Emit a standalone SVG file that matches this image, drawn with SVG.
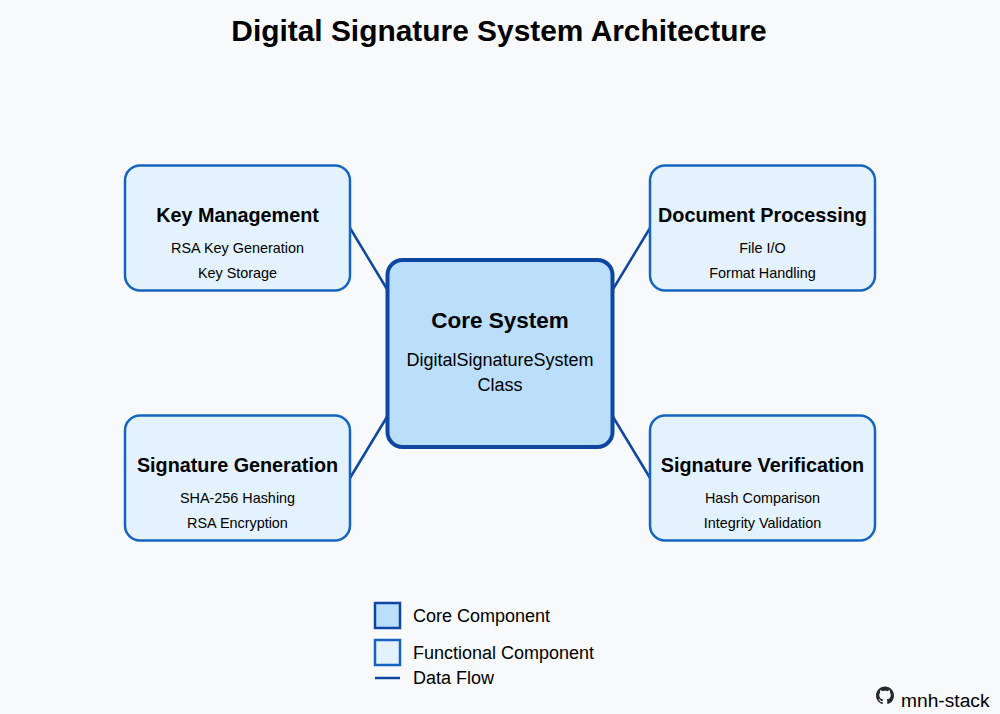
<svg xmlns="http://www.w3.org/2000/svg" width="1000" height="714" viewBox="0 0 1000 714">
<style>
text{font-family:"Liberation Sans",Arial,sans-serif;fill:#000;text-anchor:middle}
.fn{fill:#e3f2fd;stroke:#1565c0;stroke-width:2.5}
.core{fill:#bbdefb;stroke:#0d47a1;stroke-width:4}
.link{stroke:#0d47a1;stroke-width:2.5;fill:none}
.t{font-size:19.8px;font-weight:bold}
.s{font-size:14.4px}
.ct{font-size:22.5px;font-weight:bold}
.cs{font-size:18px}
.l{font-size:18px;text-anchor:start}
</style>
<rect width="1000" height="714" fill="#f8f9fa"/>
<text id="title" x="499" y="41" font-size="29.900" font-weight="bold">Digital Signature System Architecture</text>
<g id="connectors">
<line class="link" x1="350" y1="228" x2="387.500" y2="290"/>
<line class="link" x1="650" y1="228" x2="612.500" y2="290"/>
<line class="link" x1="350" y1="478" x2="387.500" y2="416"/>
<line class="link" x1="650" y1="478" x2="612.500" y2="416"/>
</g>
<g id="key-management">
<rect class="fn" x="125" y="165.500" width="225" height="125" rx="15"/>
<text class="t" x="237.500" y="222">Key Management</text>
<text class="s" x="237.500" y="253">RSA Key Generation</text>
<text class="s" x="237.500" y="278">Key Storage</text>
</g>
<g id="document-processing">
<rect class="fn" x="650" y="165.500" width="225" height="125" rx="15"/>
<text class="t" x="762.500" y="222">Document Processing</text>
<text class="s" x="762.500" y="253">File I/O</text>
<text class="s" x="762.500" y="278">Format Handling</text>
</g>
<g id="signature-generation">
<rect class="fn" x="125" y="415.500" width="225" height="125" rx="15"/>
<text class="t" x="237.500" y="472">Signature Generation</text>
<text class="s" x="237.500" y="503">SHA-256 Hashing</text>
<text class="s" x="237.500" y="528">RSA Encryption</text>
</g>
<g id="signature-verification">
<rect class="fn" x="650" y="415.500" width="225" height="125" rx="15"/>
<text class="t" x="762.500" y="472">Signature Verification</text>
<text class="s" x="762.500" y="503">Hash Comparison</text>
<text class="s" x="762.500" y="528">Integrity Validation</text>
</g>
<g id="core-system">
<rect class="core" x="387.500" y="260" width="225" height="187" rx="15"/>
<text class="ct" x="500" y="328">Core System</text>
<text class="cs" x="500" y="366">DigitalSignatureSystem</text>
<text class="cs" x="500" y="391">Class</text>
</g>
<g id="legend">
<rect x="375" y="603" width="25" height="25" fill="#bbdefb" stroke="#0d47a1" stroke-width="2.500"/>
<text class="l" x="413" y="622">Core Component</text>
<rect x="375" y="640" width="25" height="25" fill="#e3f2fd" stroke="#1565c0" stroke-width="2.500"/>
<text class="l" x="413" y="659">Functional Component</text>
<line class="link" x1="375" y1="678" x2="400" y2="678"/>
<text class="l" x="413" y="684">Data Flow</text>
</g>
<g id="credit">
<path transform="translate(876 686.500) scale(1.125)" fill="#24292f" fill-rule="evenodd" d="M8 0C3.580 0 0 3.580 0 8c0 3.540 2.290 6.530 5.470 7.590.4.070.55-.17.55-.38 0-.19-.01-.82-.01-1.490-2.010.37-2.530-.49-2.690-.94-.09-.23-.48-.94-.82-1.130-.28-.15-.68-.52-.01-.53.63-.01 1.080.58 1.230.82.720 1.210 1.870.870 2.330.660.070-.520.280-.870.510-1.070-1.780-.2-3.640-.89-3.640-3.950 0-.870.310-1.590.820-2.150-.08-.2-.36-1.020.08-2.120 0 0 .670-.210 2.200.820.640-.180 1.320-.270 2-.270s1.360.090 2 .270c1.530-1.040 2.200-.820 2.200-.820.440 1.100.160 1.920.080 2.120.510.560.820 1.270.820 2.150 0 3.070-1.870 3.750-3.650 3.950.290.250.540.730.540 1.480 0 1.070-.010 1.930-.010 2.200 0 .210.150.460.550.380A8.013 8.013 0 0016 8c0-4.420-3.580-8-8-8z"/>
<text x="901" y="707" font-size="19.200" style="text-anchor:start">mnh-stack</text>
</g>
</svg>
